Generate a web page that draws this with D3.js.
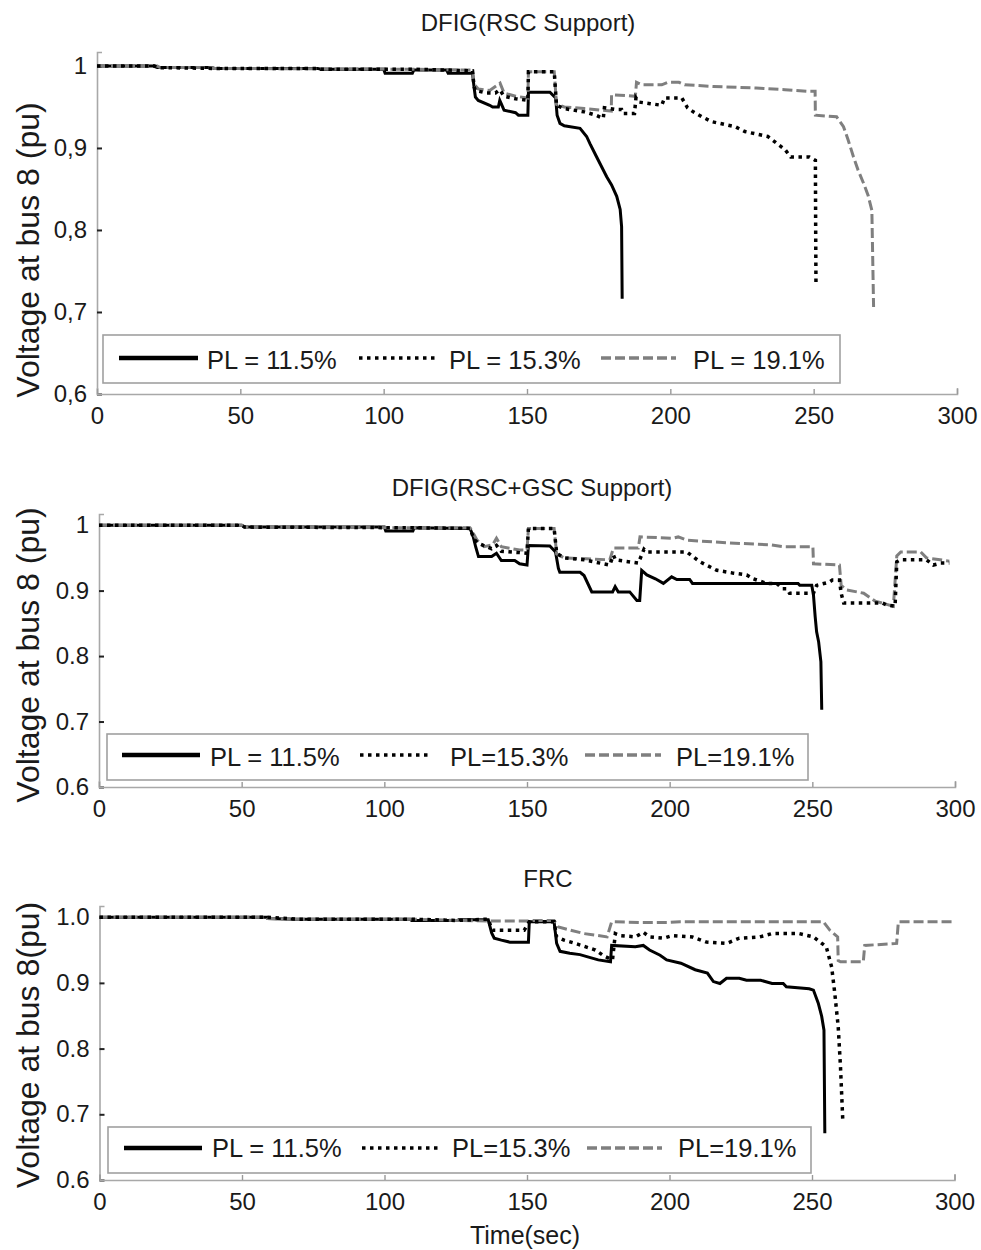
<!DOCTYPE html>
<html>
<head>
<meta charset="utf-8">
<script src="https://cdn.jsdelivr.net/npm/d3@7"></script>
<style>
  body { margin: 0; background: #fff; }
  svg { display: block; }
  text { font-family: "Liberation Sans", Arial, Helvetica, sans-serif; fill: #1a1a1a; }
</style>
</head>
<body>
<svg id="chart" width="981" height="1250"></svg>
<script>
// ---- axis ticks ----
const timeTicks = [0, 50, 100, 150, 200, 250, 300];
const voltTicks = [0.6, 0.7, 0.8, 0.9, 1.0];

// ---- legend labels ----
const legendRsc = ["PL = 11.5%", "PL = 15.3%", "PL = 19.1%"];
const legendGsc = ["PL = 11.5%", "PL=15.3%", "PL=19.1%"];
const legendFrc = ["PL = 11.5%", "PL=15.3%", "PL=19.1%"];

// ---- DFIG (RSC support): [time s, voltage pu] ----
const rscPL115 = [[0,1.0],[20,1.0],[21,0.998],[40,0.998],[41,0.997],[77,0.997],[78,0.996],[100,0.996],[100.5,0.991],[110,0.991],[110.5,0.995],[122,0.995],[122.5,0.991],[131,0.991],[131.5,0.975],[132,0.962],[133,0.958],[137,0.952],[138,0.950],[140,0.950],[140.5,0.958],[141.5,0.950],[142,0.946],[146,0.943],[147,0.940],[150.3,0.940],[150.5,0.968],[158,0.968],[160,0.961],[160.5,0.940],[161.5,0.930],[163,0.927],[168.5,0.924],[170.8,0.914],[172,0.905],[174.3,0.889],[177.8,0.865],[179.5,0.855],[181.3,0.841],[182.5,0.825],[183,0.804],[183.2,0.716]];
const rscPL153 = [[0,1.0],[20,1.0],[21,0.998],[40,0.997],[77,0.997],[78,0.996],[110,0.996],[122,0.995],[131,0.994],[131.5,0.975],[132,0.970],[136,0.967],[139,0.967],[140.5,0.971],[142,0.963],[146,0.960],[150.3,0.958],[150.5,0.993],[159.5,0.993],[160.3,0.952],[163,0.948],[170,0.944],[174,0.940],[176.6,0.936],[177,0.949],[181,0.947],[183,0.947],[183.5,0.942],[187.5,0.942],[188,0.961],[189,0.956],[193,0.954],[197,0.952],[198,0.961],[204,0.961],[206,0.949],[208,0.944],[211,0.938],[214.5,0.932],[222.6,0.926],[226,0.920],[234,0.914],[237,0.906],[240,0.898],[242,0.889],[248.5,0.889],[250.6,0.885],[250.7,0.800],[250.8,0.735]];
const rscPL191 = [[0,1.0],[21,1.0],[22,0.998],[40,0.998],[41,0.997],[110,0.996],[131,0.995],[131.5,0.978],[133,0.972],[137,0.970],[140.6,0.979],[142,0.967],[146,0.963],[150.3,0.961],[150.5,0.993],[159.5,0.993],[160.3,0.953],[163,0.950],[170,0.948],[179.4,0.945],[179.5,0.965],[187.8,0.963],[188.2,0.980],[190,0.977],[197,0.977],[199,0.980],[203,0.980],[205,0.977],[215,0.975],[230,0.973],[240,0.971],[247.5,0.969],[250.5,0.969],[250.6,0.940],[258,0.938],[260.4,0.926],[262,0.910],[263.9,0.889],[265.5,0.873],[267.4,0.857],[269,0.842],[270.3,0.824],[270.9,0.706]];

// ---- DFIG (RSC+GSC support) ----
const gscPL115 = [[0,1.0],[50,1.0],[51,0.997],[100,0.997],[100.5,0.991],[110,0.991],[110.5,0.996],[130,0.995],[131,0.985],[132,0.967],[133,0.952],[137.6,0.952],[139.3,0.957],[141,0.946],[145.7,0.946],[147.4,0.941],[150,0.939],[150.5,0.969],[158,0.968],[160,0.959],[161,0.934],[161.5,0.928],[168.6,0.928],[170,0.923],[172.7,0.898],[180,0.898],[180.9,0.906],[182,0.898],[186,0.898],[188.5,0.885],[189.5,0.885],[190.2,0.931],[192,0.924],[195,0.918],[197.8,0.911],[200.7,0.921],[202.5,0.917],[207,0.917],[208,0.911],[245,0.911],[245.6,0.908],[249.8,0.908],[250.4,0.893],[251,0.860],[251.5,0.837],[252.2,0.822],[253,0.791],[253.3,0.718]];
const gscPL153 = [[0,1.0],[50,1.0],[51,0.997],[110,0.996],[130,0.995],[131.5,0.978],[133,0.972],[137.6,0.964],[139.3,0.969],[141,0.960],[147.4,0.958],[150,0.957],[150.5,0.995],[159.5,0.995],[160.4,0.957],[163,0.950],[170,0.947],[179,0.939],[180.3,0.954],[181,0.947],[189,0.942],[191,0.963],[192,0.959],[206,0.959],[210.6,0.944],[216.5,0.931],[222,0.927],[227,0.924],[229.3,0.918],[234,0.911],[237.5,0.911],[239.5,0.903],[241,0.903],[242,0.896],[250.4,0.896],[251.5,0.908],[256,0.913],[257,0.916],[259.5,0.916],[260.1,0.896],[261,0.881],[274.6,0.881],[276,0.878],[279,0.876],[279.6,0.944],[280.8,0.947],[290,0.947],[292.4,0.939],[295,0.942],[298,0.942]];
const gscPL191 = [[0,1.0],[50,1.0],[51,0.997],[110,0.996],[130,0.996],[131.5,0.985],[132.5,0.977],[135,0.967],[138,0.970],[139.3,0.980],[141,0.967],[147.4,0.962],[150,0.962],[150.5,0.995],[159.5,0.995],[160.4,0.956],[163,0.950],[179,0.947],[180.3,0.965],[189,0.965],[189.6,0.982],[201,0.980],[203,0.982],[206,0.977],[220,0.973],[235,0.970],[240,0.967],[250.2,0.967],[250.4,0.941],[259.5,0.939],[260.1,0.908],[262,0.901],[268,0.896],[272,0.884],[278.4,0.876],[279.6,0.953],[281,0.959],[288,0.959],[290,0.950],[298,0.945]];

// ---- FRC ----
const frcPL115 = [[0,1.0],[58.7,1.0],[59,0.998],[69,0.997],[109,0.997],[109.5,0.995],[125.6,0.995],[126,0.996],[136.4,0.996],[137.6,0.976],[138.5,0.968],[141,0.965],[144,0.962],[150.5,0.962],[150.8,0.993],[159.5,0.993],[160.4,0.960],[161.6,0.948],[165,0.945],[168.6,0.943],[171,0.940],[175,0.935],[179.3,0.932],[179.7,0.957],[188,0.955],[190.8,0.957],[193,0.950],[196.7,0.942],[199,0.935],[204,0.930],[209,0.920],[213.3,0.915],[215.4,0.902],[217.7,0.899],[220,0.907],[224.5,0.907],[227,0.904],[232,0.904],[236,0.899],[239.9,0.899],[241,0.894],[249,0.891],[250.5,0.889],[252.2,0.869],[253.4,0.849],[254.2,0.828],[254.5,0.671]];
const frcPL153 = [[0,1.0],[58.7,1.0],[69,0.997],[109,0.997],[125.6,0.995],[136.4,0.997],[137.6,0.982],[138,0.980],[149,0.980],[150.8,0.993],[159.5,0.993],[160.4,0.970],[163,0.965],[167,0.960],[174,0.950],[177,0.941],[180,0.935],[181,0.975],[182.6,0.972],[188,0.970],[190.8,0.977],[193,0.970],[198,0.968],[201,0.972],[208,0.970],[213,0.962],[220,0.960],[224.5,0.968],[231.7,0.970],[236,0.975],[245.5,0.975],[250.5,0.970],[255,0.955],[256.9,0.924],[258,0.884],[259.2,0.833],[260,0.772],[260.8,0.691]];
const frcPL191 = [[0,1.0],[58.7,1.0],[59,0.998],[69,0.997],[109,0.997],[125.6,0.995],[137,0.994],[150,0.994],[150.8,0.995],[159.5,0.995],[161,0.985],[170,0.975],[178.1,0.970],[179.7,0.993],[190,0.992],[200,0.992],[203.7,0.993],[254,0.993],[256.3,0.980],[259,0.970],[259.2,0.934],[260,0.932],[268,0.932],[268.5,0.957],[279.7,0.960],[280.3,0.993],[300,0.993]];

// ---- line styles (PL = 11.5 %, 15.3 %, 19.1 %) ----
const styles = [
  { stroke: "#000", width: 3, dash: null },
  { stroke: "#000", width: 3.5, dash: "3.5,4.5" },
  { stroke: "#7f7f7f", width: 3, dash: "10,4" }
];

const commaFmt = d => d === 1 ? "1" : d3.format(".1f")(d).replace(".", ",");
const dotFmt = d => d === 1 ? "1" : d3.format(".1f")(d);
const dotFmt1 = d3.format(".1f");

// ---- panel layout ----
const panels = [
  { title: "DFIG(RSC Support)", titleX: 528, titleY: 31, ylabel: "Voltage at bus 8 (pu)", ylabelY: 250,
    xr: [97, 957], yTop: 52, yBot: 394, fmt: commaFmt,
    series: [rscPL115, rscPL153, rscPL191], legend: legendRsc,
    box: [103, 335, 840, 383], lineY: 358, samples: [[119,198],[359,438],[601,676]], textX: [207,449,693], textBase: 369 },
  { title: "DFIG(RSC+GSC Support)", titleX: 532, titleY: 496, ylabel: "Voltage at bus 8 (pu)", ylabelY: 655,
    xr: [99, 955], yTop: 514, yBot: 787, fmt: dotFmt,
    series: [gscPL115, gscPL153, gscPL191], legend: legendGsc,
    box: [107, 734, 808, 780], lineY: 755, samples: [[122,200],[360,430],[585,661]], textX: [210,450,676], textBase: 766 },
  { title: "FRC", titleX: 548, titleY: 887, ylabel: "Voltage at bus 8(pu)", ylabelY: 1045,
    xr: [99.5, 954.5], yTop: 906, yBot: 1180, fmt: dotFmt1,
    series: [frcPL115, frcPL153, frcPL191], legend: legendFrc,
    box: [108, 1127, 811, 1173], lineY: 1148, samples: [[124,202],[362,438],[587,662]], textX: [212,452,678], textBase: 1157 }
];

const svg = d3.select("#chart");
svg.append("rect").attr("width", 981).attr("height", 1250).attr("fill", "#fff");

panels.forEach(p => {
  const g = svg.append("g");
  const x = d3.scaleLinear().domain([0, 300]).range(p.xr);
  const y = d3.scaleLinear().domain([0.6, 1.017]).range([p.yBot, p.yTop]);

  // title
  g.append("text").attr("x", p.titleX).attr("y", p.titleY)
    .attr("text-anchor", "middle").attr("font-size", 24).text(p.title);

  // y axis
  const ya = g.append("g").attr("transform", `translate(${p.xr[0]},0)`)
    .call(d3.axisLeft(y).tickValues(voltTicks).tickFormat(p.fmt)
      .tickSizeInner(-5).tickSizeOuter(-5).tickPadding(10));
  ya.select(".domain").attr("stroke", "#a8a8a8").attr("stroke-width", 1.6);
  ya.selectAll(".tick line").attr("stroke", "#222").attr("stroke-width", 2);
  ya.selectAll(".tick text").attr("font-size", 24).attr("font-family", "Liberation Sans, Arial, sans-serif").attr("fill", "#1a1a1a");

  // x axis
  const xa = g.append("g").attr("transform", `translate(0,${p.yBot})`)
    .call(d3.axisBottom(x).tickValues(timeTicks).tickFormat(d3.format("d"))
      .tickSizeInner(-5).tickSizeOuter(-6).tickPadding(13));
  xa.select(".domain").attr("stroke", "#a8a8a8").attr("stroke-width", 1.6);
  xa.selectAll(".tick line").attr("stroke", "#999").attr("stroke-width", 1.4);
  xa.selectAll(".tick text").attr("font-size", 24).attr("font-family", "Liberation Sans, Arial, sans-serif").attr("fill", "#1a1a1a");

  // y label
  g.append("text")
    .attr("transform", `translate(28,${p.ylabelY}) rotate(-90)`)
    .attr("text-anchor", "middle").attr("dominant-baseline", "central")
    .attr("font-size", 32).text(p.ylabel);

  // curves: solid first, then dashed, dotted on top
  const line = d3.line().x(d => x(d[0])).y(d => y(d[1]));
  [0, 2, 1].forEach(i => {
    const s = styles[i];
    g.append("path").datum(p.series[i])
      .attr("d", line)
      .attr("fill", "none")
      .attr("stroke", s.stroke)
      .attr("stroke-width", s.width)
      .attr("stroke-linejoin", "miter")
      .attr("stroke-dasharray", s.dash);
  });

  // legend
  const [bx0, by0, bx1, by1] = p.box;
  g.append("rect").attr("x", bx0).attr("y", by0).attr("width", bx1 - bx0).attr("height", by1 - by0)
    .attr("fill", "#fff").attr("stroke", "#a0a0a0").attr("stroke-width", 1.6);
  p.legend.forEach((label, i) => {
    const s = styles[i];
    g.append("line")
      .attr("x1", p.samples[i][0]).attr("x2", p.samples[i][1])
      .attr("y1", p.lineY).attr("y2", p.lineY)
      .attr("stroke", s.stroke)
      .attr("stroke-width", i === 0 ? 4.5 : 3.5)
      .attr("stroke-dasharray", s.dash);
    g.append("text").attr("x", p.textX[i]).attr("y", p.textBase)
      .attr("font-size", 25.5).text(label);
  });
});

// shared x label
svg.append("text").attr("x", 525).attr("y", 1244).attr("text-anchor", "middle")
  .attr("font-size", 25).text("Time(sec)");
</script>
</body>
</html>
